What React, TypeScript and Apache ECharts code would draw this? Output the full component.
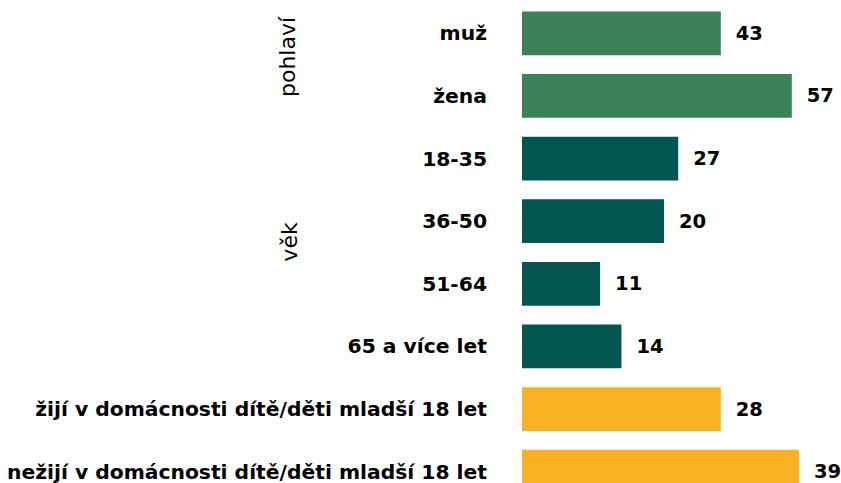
import React, { useEffect, useRef } from "react";
import * as echarts from "echarts";

const categories = [
  "muž",
  "žena",
  "18-35",
  "36-50",
  "51-64",
  "65 a více let",
  "žijí v domácnosti dítě/děti mladší 18 let",
  "nežijí v domácnosti dítě/děti mladší 18 let",
];
// bar lengths as drawn in the picture
const barValues = [28, 38, 22, 20, 11, 14, 28, 39];
// numbers printed beside the bars
const labelValues = [43, 57, 27, 20, 11, 14, 28, 39];
const groups = [0, 0, 1, 1, 1, 1, 2, 2];
const groupColors = ["#3C8157", "#02564F", "#F9B123"];
const groupTitles = ["pohlaví", "věk"];

export default function App() {
  const ref = useRef<HTMLDivElement>(null);
  useEffect(() => {
    if (!ref.current) return;
    const chart = echarts.init(ref.current, null, { renderer: "svg" });
    chart.setOption({
      animation: false,
      grid: { left: 522, top: 2, height: 501, width: 284, containLabel: false },
      xAxis: { type: "value", min: 0, max: 40, show: false },
      yAxis: {
        type: "category",
        data: categories,
        inverse: true,
        axisLine: { show: false },
        axisTick: { show: false },
        splitLine: { show: false },
        axisLabel: {
          margin: 35,
          color: "#000",
          fontFamily: "DejaVu Sans",
          fontWeight: "bold",
          fontSize: 20.3,
        },
      },
      graphic: [
        {
          type: "text",
          x: 287,
          y: 57,
          rotation: Math.PI / 2,
          style: {
            text: groupTitles[0],
            fontFamily: "DejaVu Sans",
            fontSize: 22,
            fill: "#000",
            textAlign: "center",
            textVerticalAlign: "middle",
          },
        },
        {
          type: "text",
          x: 289,
          y: 242,
          rotation: Math.PI / 2,
          style: {
            text: groupTitles[1],
            fontFamily: "DejaVu Sans",
            fontSize: 22,
            fill: "#000",
            textAlign: "center",
            textVerticalAlign: "middle",
          },
        },
      ],
      series: [
        {
          type: "bar",
          barCategoryGap: "30%",
          data: barValues.map((v, i) => ({
            value: v,
            itemStyle: { color: groupColors[groups[i]] },
          })),
          label: {
            show: true,
            position: "right",
            distance: 15,
            color: "#000",
            fontFamily: "DejaVu Sans",
            fontWeight: "bold",
            fontSize: 19.5,
            formatter: (p: any) => String(labelValues[p.dataIndex]),
          },
        },
      ],
    });
    return () => chart.dispose();
  }, []);
  return (
    <div
      style={{
        position: "fixed",
        left: 0,
        top: 0,
        width: 841,
        height: 483,
        overflow: "hidden",
        background: "#fff",
      }}
    >
      <div ref={ref} style={{ width: 841, height: 520 }} />
    </div>
  );
}
